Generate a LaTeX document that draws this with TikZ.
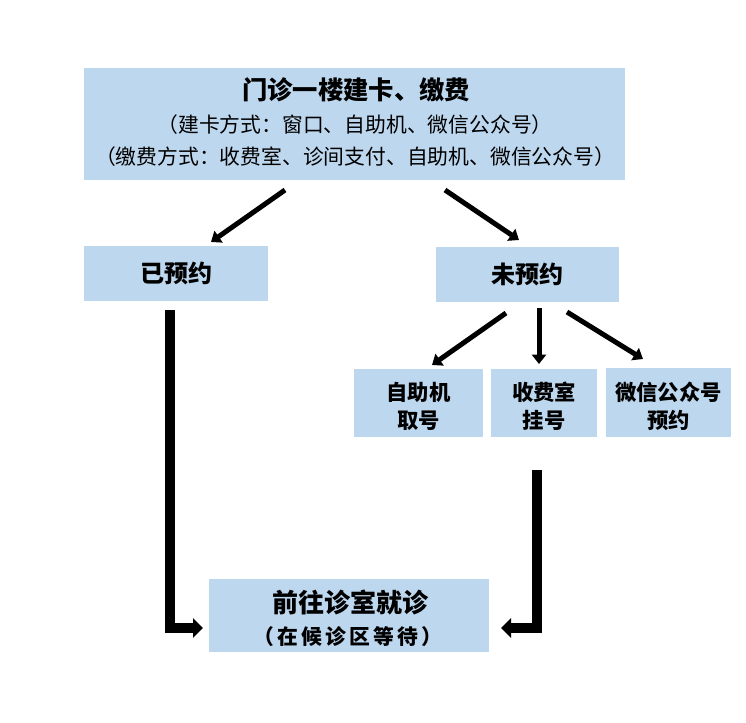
\documentclass[tikz,border=0pt]{standalone}
\usepackage{fontspec}
\newfontfamily\cjk{Noto Sans CJK SC}
\newfontfamily\cjkwide{Noto Sans CJK SC}[LetterSpace=15]
\usetikzlibrary{arrows.meta}
\definecolor{boxblue}{HTML}{BDD7EE}
\begin{document}
\begin{tikzpicture}[x=0.75pt,y=-0.75pt,
  box/.style={fill=boxblue,draw=none,inner sep=0pt,align=center},
  txt/.style={inner sep=0pt,font=\cjk},
  thinarrow/.style={line width=3.75pt,-{Triangle[length=7pt,width=10.5pt]}},
  fatarrow/.style={line width=7.5pt,line join=miter,-{Triangle[length=7.5pt,width=14.5pt]}}]
\useasboundingbox (0,0) rectangle (746,722);

% boxes
\node[box,minimum width=405.75pt,minimum height=84pt] (top) at (354.5,124) {};
\node[txt,font=\cjk\bfseries\fontsize{19pt}{19pt}\selectfont] (t1) at (356,90) {门诊一楼建卡、缴费};
\node[txt,font=\cjk\fontsize{15.6pt}{15.6pt}\selectfont] (t2) at (355,125) {（建卡方式：窗口、自助机、微信公众号）};
\node[txt,font=\cjk\fontsize{15.6pt}{15.6pt}\selectfont] (t3) at (355,157) {（缴费方式：收费室、诊间支付、自助机、微信公众号）};

\node[box,minimum width=138pt,minimum height=41.25pt,font=\cjk\bfseries\fontsize{18pt}{18pt}\selectfont] (yes) at (176,273.5) {已预约};
\node[box,minimum width=137.25pt,minimum height=41.25pt,font=\cjk\bfseries\fontsize{18pt}{18pt}\selectfont] (no) at (527.5,274.5) {未预约};

\node[box,minimum width=96.75pt,minimum height=51pt] (m1) at (418.5,403) {};
\node[box,minimum width=79.5pt,minimum height=51pt] (m2) at (544,403) {};
\node[box,minimum width=93.75pt,minimum height=51.75pt] (m3) at (668.5,402.5) {};
\node[txt,align=center,font=\cjk\bfseries\fontsize{16pt}{21pt}\selectfont] (m1t) at (418.5,406) {自助机\\取号};
\node[txt,align=center,font=\cjk\bfseries\fontsize{16pt}{21pt}\selectfont] (m2t) at (544,406) {收费室\\挂号};
\node[txt,align=center,font=\cjk\bfseries\fontsize{16pt}{21pt}\selectfont] (m3t) at (668.5,406) {微信公众号\\预约};

\node[box,minimum width=210pt,minimum height=54.75pt] (go) at (349,615.5) {};
\node[txt,font=\cjk\bfseries\fontsize{19.5pt}{19.5pt}\selectfont] (g1) at (350,602) {前往诊室就诊};
\node[txt,font=\cjkwide\bfseries\fontsize{15.6pt}{15.6pt}\selectfont] (g2) at (348,637) {（在候诊区等待）};

% connector end points
\coordinate (a1s) at (285,190); \coordinate (a1e) at (211,242);
\coordinate (a2s) at (445,190); \coordinate (a2e) at (519,240);
\coordinate (b1s) at (506,313); \coordinate (b1e) at (432,365);
\coordinate (b2s) at (539,308); \coordinate (b2e) at (539,364);
\coordinate (b3s) at (567,312); \coordinate (b3e) at (643,359);
\coordinate (c1s) at (170,310); \coordinate (c1e) at (203,628);
\coordinate (c2s) at (537,470); \coordinate (c2e) at (501,628);

\draw[thinarrow] (a1s) -- (a1e);
\draw[thinarrow] (a2s) -- (a2e);
\draw[thinarrow] (b1s) -- (b1e);
\draw[thinarrow] (b2s) -- (b2e);
\draw[thinarrow] (b3s) -- (b3e);
\draw[fatarrow] (c1s) |- (c1e);
\draw[fatarrow] (c2s) |- (c2e);
\end{tikzpicture}
\end{document}
